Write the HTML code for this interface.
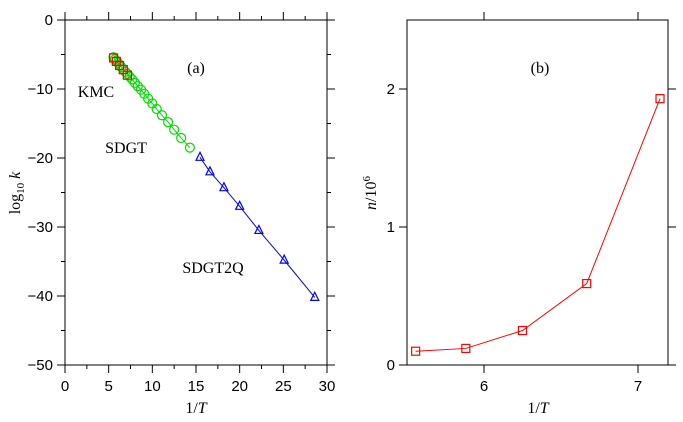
<!DOCTYPE html>
<html><head><meta charset="utf-8"><style>
body{margin:0;background:#fff;}
svg{display:block;font-family:"Liberation Serif",serif;}
text{font-size:16px;fill:#000;}
.tk{font-family:"Liberation Sans",sans-serif;font-size:15px;}
</style></head><body>
<svg id="s" width="683" height="422" viewBox="0 0 683 422">
<g id="pa"></g>
<g id="pb"></g>
</svg>
<script>
const kmcX=[5.56,5.88,6.25,6.67,7.14];
const kmcY=[-5.5,-6.0,-6.6,-7.2,-8.0];
const sdgtX=[5.56,5.71,5.88,6.06,6.25,6.45,6.67,6.90,7.14,7.41,7.69,8.0,8.33,8.70,9.09,9.52,10.0,10.5,11.1,11.8,12.5,13.3,14.3];
const sdgtY=[-5.4,-5.7,-5.9,-6.2,-6.5,-6.8,-7.1,-7.5,-7.8,-8.2,-8.6,-9.1,-9.6,-10.1,-10.7,-11.4,-12.1,-12.9,-13.8,-14.8,-15.9,-17.1,-18.5];
const q2X=[15.46,16.6,18.2,20.0,22.2,25.1,28.6];
const q2Y=[-19.9,-22.0,-24.3,-27.0,-30.5,-34.8,-40.2];
const bX=[5.556,5.882,6.25,6.667,7.143];
const bY=[0.10,0.12,0.25,0.59,1.93];
const aXTicks=[0,5,10,15,20,25,30];
const aYTicks=[0,-10,-20,-30,-40,-50];
const bXTicks=[6,7];
const bYTicks=[0,1,2];
const NS="http://www.w3.org/2000/svg";
function mk(p,t,a){const e=document.createElementNS(NS,t);for(const k in a)e.setAttribute(k,a[k]);p.appendChild(e);return e;}
function frame(g,L,R,T,B,xs,ys,xt,yt){
  mk(g,'rect',{x:L,y:T,width:R-L,height:B-T,fill:'none',stroke:'#000','stroke-width':1});
  xt.forEach(v=>{const x=xs(v);
    const t1=mk(g,'line',{x1:x,x2:x,y1:B,y2:B+8,stroke:'#000'});
    
    mk(g,'line',{x1:x,x2:x,y1:T,y2:T-8,stroke:'#000'});
    const tx=mk(g,'text',{x:x,y:B+26,'text-anchor':'middle',class:'tk'});tx.textContent=v;
    });
  yt.forEach(v=>{const y=ys(v);
    mk(g,'line',{x1:L-8,x2:L,y1:y,y2:y,stroke:'#000'});
    mk(g,'line',{x1:R,x2:R+8,y1:y,y2:y,stroke:'#000'});
    const tx=mk(g,'text',{x:L-12,y:y+5,'text-anchor':'end',class:'tk'});tx.textContent=v<0?'\u2212'+(-v):v;
    });
}
const ga=document.getElementById('pa');
const ax=v=>65+v*(262/30), ay=v=>20-v*(345/50);
frame(ga,65,327,20,365,ax,ay,aXTicks,aYTicks);
for(let v=2.5;v<30;v+=5){mk(ga,'line',{x1:ax(v),x2:ax(v),y1:365,y2:369,stroke:'#000'});mk(ga,'line',{x1:ax(v),x2:ax(v),y1:20,y2:16,stroke:'#000'});}
for(let v=-5;v>-50;v-=10){mk(ga,'line',{x1:61,x2:65,y1:ay(v),y2:ay(v),stroke:'#000'});mk(ga,'line',{x1:327,x2:331,y1:ay(v),y2:ay(v),stroke:'#000'});}
mk(ga,'polyline',{points:q2X.map((x,i)=>ax(x)+','+ay(q2Y[i])).join(' '),fill:'none',stroke:'#00f','stroke-width':1});
mk(ga,'polyline',{points:sdgtX.map((x,i)=>ax(x)+','+ay(sdgtY[i])).join(' '),fill:'none',stroke:'#0d0','stroke-width':1});
sdgtX.forEach((x,i)=>{const c=mk(ga,'circle',{cx:ax(x),cy:ay(sdgtY[i]),r:4.5,fill:'none',stroke:'#0d0','stroke-width':1.2});
  });
kmcX.forEach((x,i)=>{const c=mk(ga,'rect',{x:ax(x)-4,y:ay(kmcY[i])-4,width:8,height:8,fill:'none',stroke:'#f00','stroke-width':1.2});
  });
q2X.forEach((x,i)=>{const X=ax(x),Y=ay(q2Y[i]);const c=mk(ga,'polygon',{points:`${X-4},${Y+3} ${X+4},${Y+3} ${X},${Y-5}`,fill:'none',stroke:'#00f','stroke-width':1.2});
  });
[['(a)',196,73,'panel-a-label'],['KMC',96,97,'kmc-label'],['SDGT',126,153,'sdgt-label'],['SDGT2Q',213,273,'sdgt2q-label']].forEach(d=>{
  const t=mk(ga,'text',{x:d[1],y:d[2],'text-anchor':'middle'});t.textContent=d[0];
  });
let t=mk(ga,'text',{x:196,y:413,'text-anchor':'middle'});t.innerHTML='1/<tspan font-style="italic">T</tspan>';

t=mk(ga,'text',{x:0,y:0,'text-anchor':'middle',transform:'translate(20,193) rotate(-90)'});
t.innerHTML='log<tspan font-size="11" dy="4">10</tspan><tspan dy="-4"> </tspan><tspan font-style="italic">k</tspan>';

const gb=document.getElementById('pb');
const bx=v=>407+(v-5.5)*154, by=v=>365-v*138;
frame(gb,407,668,20,365,bx,by,bXTicks,bYTicks);
mk(gb,'polyline',{points:bX.map((x,i)=>bx(x)+','+by(bY[i])).join(' '),fill:'none',stroke:'#f00','stroke-width':1});
bX.forEach((x,i)=>{const c=mk(gb,'rect',{x:bx(x)-4,y:by(bY[i])-4,width:8,height:8,fill:'none',stroke:'#f00','stroke-width':1.2});
  });
t=mk(gb,'text',{x:540,y:73,'text-anchor':'middle'});t.textContent='(b)';

t=mk(gb,'text',{x:538,y:413,'text-anchor':'middle'});t.innerHTML='1/<tspan font-style="italic">T</tspan>';

t=mk(gb,'text',{x:0,y:0,'text-anchor':'middle',transform:'translate(376,193) rotate(-90)'});
t.innerHTML='<tspan font-style="italic">n</tspan>/10<tspan font-size="11" dy="-6">6</tspan>';

</script>
</body></html>
